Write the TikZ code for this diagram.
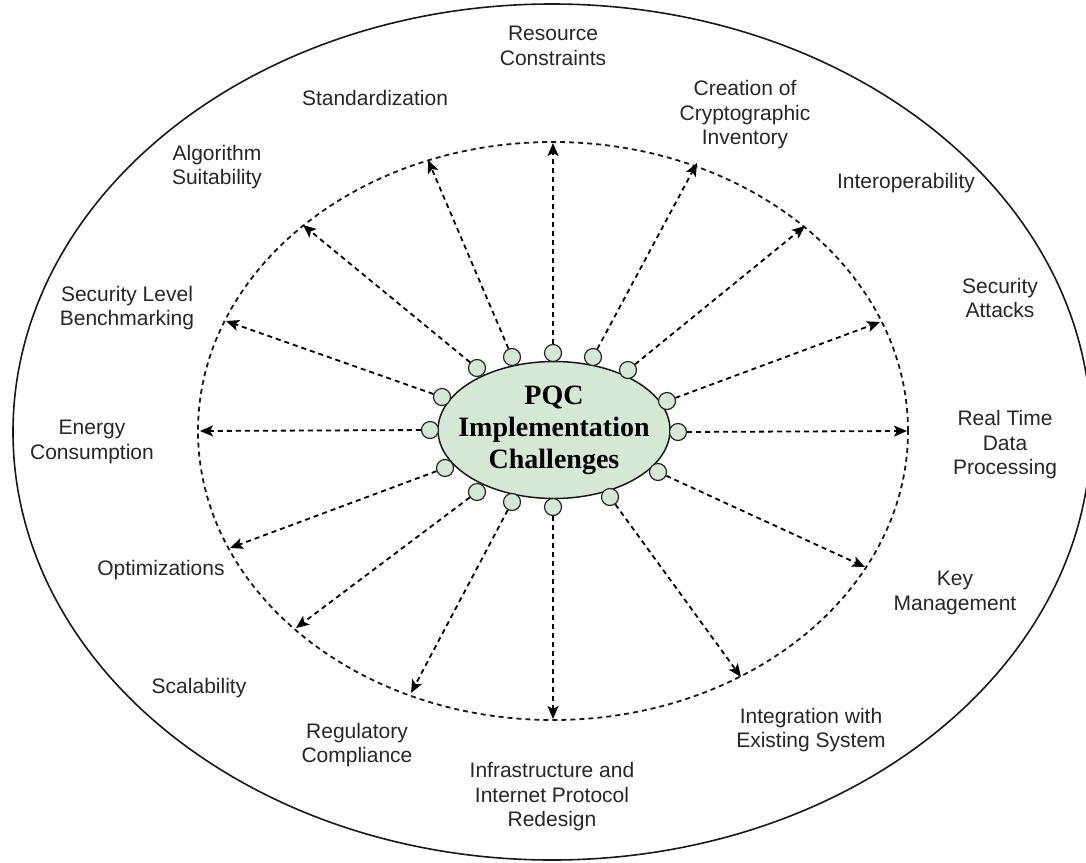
\documentclass[tikz,border=0pt]{standalone}
\usepackage{fontspec}
\setmainfont{Liberation Sans}
\newfontfamily\serifbold{Liberation Serif}
\usetikzlibrary{arrows.meta,shapes.geometric}
\definecolor{pale}{HTML}{D5E8D4}
\tikzset{
  lbl/.style={align=center, font=\fontsize{21}{24.5}\selectfont, text=black!85, inner sep=0pt},
  hub/.style={circle, draw=black!85, fill=pale, line width=1.2pt, minimum size=17pt, inner sep=0pt},
  arr/.style={line width=1.8pt, dash pattern=on 5pt off 4pt, -{Stealth[length=13pt,width=11pt,inset=3pt]}, shorten >=0pt},
}
\begin{document}
\begin{tikzpicture}[x=1pt,y=-1pt]
\useasboundingbox (0,0) rectangle (1086,862);
\clip (0,0) rectangle (1086,862);
% outer ellipse
\draw[line width=1.6pt, black!90] (552,432) ellipse [x radius=539pt, y radius=428pt];
% dashed ellipse
\draw[line width=1.8pt, dash pattern=on 5pt off 4pt, black!90] (553,431) ellipse [x radius=355pt, y radius=289pt];
% center ellipse
\node[ellipse, draw=black!90, fill=pale, line width=1.5pt, minimum width=232pt, minimum height=137pt, inner sep=0pt] (core) at (554,430) {};
\node[align=center, inner sep=0pt, font=\serifbold\bfseries\fontsize{28}{32}\selectfont] (title) at (core.center) {PQC\\Implementation\\Challenges};
% small circles
\node[hub] (c1) at (553,353) {};
\node[hub] (c2) at (512,357) {};
\node[hub] (c3) at (593,357) {};
\node[hub] (c4) at (477,368) {};
\node[hub] (c5) at (628,370) {};
\node[hub] (c6) at (442,397) {};
\node[hub] (c7) at (667,401) {};
\node[hub] (c8) at (430,430) {};
\node[hub] (c9) at (678,432) {};
\node[hub] (c10) at (445,468) {};
\node[hub] (c11) at (658,472) {};
\node[hub] (c12) at (477,492) {};
\node[hub] (c13) at (610,497) {};
\node[hub] (c14) at (512,502) {};
\node[hub] (c15) at (553,507) {};
% tips
\coordinate (t1) at (553,143);
\coordinate (t2) at (428,160);
\coordinate (t3) at (697,163);
\coordinate (t4) at (303,225);
\coordinate (t5) at (805,226);
\coordinate (t6) at (226,321);
\coordinate (t7) at (880,322);
\coordinate (t8) at (200,431);
\coordinate (t9) at (907,431);
\coordinate (t10) at (230,548);
\coordinate (t11) at (865,567);
\coordinate (t12) at (296,628);
\coordinate (t13) at (741,677);
\coordinate (t14) at (411,693);
\coordinate (t15) at (553,719);
\foreach \i in {1,...,15} { \draw[arr] (c\i) -- (t\i); }
% labels
\node[lbl] (l1) at (553,46) {Resource\\Constraints};
\node[lbl] (l2) at (375,98) {Standardization};
\node[lbl] (l3) at (745,115) {Creation of\\Cryptographic\\Inventory};
\node[lbl] (l4) at (217,167) {Algorithm\\Suitability};
\node[lbl] (l5) at (906,183) {Interoperability};
\node[lbl] (l6) at (127,308) {Security Level\\Benchmarking};
\node[lbl] (l7) at (1000,298) {Security\\Attacks};
\node[lbl] (l8) at (92,442) {Energy\\Consumption};
\node[lbl] (l9) at (1005,445) {Real Time\\Data\\Processing};
\node[lbl] (l10) at (161,570) {Optimizations};
\node[lbl] (l11) at (955,593) {Key\\Management};
\node[lbl] (l12) at (199,688) {Scalability};
\node[lbl] (l13) at (811,730) {Integration with\\Existing System};
\node[lbl] (l14) at (357,745) {Regulatory\\Compliance};
\node[lbl] (l15) at (552,797) {Infrastructure and\\Internet Protocol\\Redesign};
\end{tikzpicture}
\end{document}
